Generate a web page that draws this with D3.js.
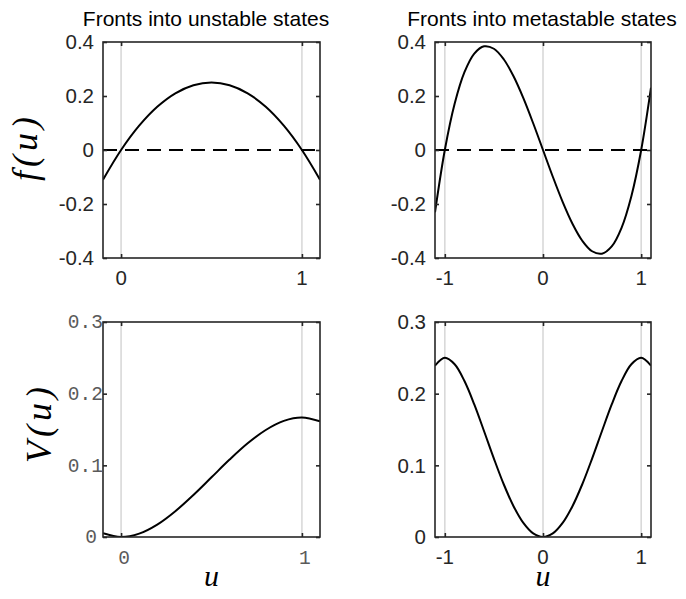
<!DOCTYPE html>
<html><head><meta charset="utf-8">
<script src="https://cdn.jsdelivr.net/npm/d3@7"></script>
<style>
html,body{margin:0;padding:0;background:#fff;}
svg{display:block;}
</style></head>
<body>
<svg id="chart" width="686" height="599"></svg>
<script>
// ---- data ----
const titles = ["Fronts into unstable states", "Fronts into metastable states"];
const uLeft = [-0.1, 0, 0.1, 0.2, 0.3, 0.4, 0.5, 0.6, 0.7, 0.8, 0.9, 1.0, 1.1];
const fLeft = [-0.11, 0, 0.09, 0.16, 0.21, 0.24, 0.25, 0.24, 0.21, 0.16, 0.09, 0, -0.11];
const VLeft = [0.0053, 0, 0.0047, 0.0173, 0.036, 0.0587, 0.0833, 0.108, 0.1307, 0.1493, 0.162, 0.1667, 0.1613];
const uRight = [-1.1, -1.0, -0.9, -0.8, -0.7, -0.6, -0.5, -0.4, -0.3, -0.2, -0.1, 0, 0.1, 0.2, 0.3, 0.4, 0.5, 0.6, 0.7, 0.8, 0.9, 1.0, 1.1];
const fRight = [-0.231, 0, 0.171, 0.288, 0.357, 0.384, 0.375, 0.336, 0.273, 0.192, 0.099, 0, -0.099, -0.192, -0.273, -0.336, -0.375, -0.384, -0.357, -0.288, -0.171, 0, 0.231];
const VRight = [0.239, 0.25, 0.241, 0.2176, 0.185, 0.1476, 0.1094, 0.0736, 0.043, 0.0196, 0.005, 0, 0.005, 0.0196, 0.043, 0.0736, 0.1094, 0.1476, 0.185, 0.2176, 0.241, 0.25, 0.239];
const xDomainLeft = [-0.1, 1.1];
const xDomainRight = [-1.1, 1.1];
const yDomainTop = [-0.4, 0.4];
const yDomainBottom = [0, 0.3];
const xTicksLeft = [0, 1];
const xTicksRight = [-1, 0, 1];
const yTicksTop = [-0.4, -0.2, 0, 0.2, 0.4];
const yTicksBottom = [0, 0.1, 0.2, 0.3];
const yTickLabelsTop = ["-0.4", "-0.2", "0", "0.2", "0.4"];
const yTickLabelsBottom = ["0", "0.1", "0.2", "0.3"];
const guideLeft = [0, 1];
const guideRight = [-1, 0, 1];

// ---- layout ----
const svg = d3.select("#chart");
const colX = [[103, 320], [435, 651]];
const rowY = [[42, 258], [322, 537]];
const TXT = "#262626";
const SANS = "'Liberation Sans', Arial, Helvetica, sans-serif";
const MONO = "'Liberation Mono', 'Courier New', monospace";
const SERIF = "'Liberation Serif', 'Times New Roman', serif";

function helvW(s, size) {
  let w = 0;
  for (const c of s) w += (c === "." ? 0.278 : c === "-" ? 0.333 : 0.556);
  return w * size;
}

function panel(opts) {
  const [x0, x1] = colX[opts.col];
  const [y0, y1] = rowY[opts.row];
  const x = d3.scaleLinear().domain(opts.xDomain).range([x0, x1]);
  const y = d3.scaleLinear().domain(opts.yDomain).range([y1, y0]);
  const g = svg.append("g");
  const clipId = "clip" + opts.row + opts.col;
  g.append("clipPath").attr("id", clipId).append("rect")
    .attr("x", x0).attr("y", y0).attr("width", x1 - x0).attr("height", y1 - y0);

  // light guide lines
  g.selectAll(".guide").data(opts.guides).join("line")
    .attr("x1", d => x(d)).attr("x2", d => x(d))
    .attr("y1", y0).attr("y2", y1)
    .attr("stroke", "#d9d9d9").attr("stroke-width", 1.6);

  // dashed zero line
  if (opts.zeroLine) {
    g.append("line")
      .attr("x1", x0).attr("x2", x1).attr("y1", y(0)).attr("y2", y(0))
      .attr("stroke", "#000").attr("stroke-width", 2)
      .attr("stroke-dasharray", "14,8");
  }

  // curve
  const pts = opts.u.map((u, i) => [u, opts.v[i]]);
  g.append("path").datum(pts)
    .attr("clip-path", `url(#${clipId})`)
    .attr("fill", "none").attr("stroke", "#000").attr("stroke-width", 2)
    .attr("d", d3.line().x(d => x(d[0])).y(d => y(d[1])).curve(d3.curveCatmullRom.alpha(0.5)));

  // axes (box with inward ticks on all sides)
  const tl = 4;
  const axB = d3.axisBottom(x).tickValues(opts.xTicks).tickSize(-tl).tickFormat("");
  const axT = d3.axisTop(x).tickValues(opts.xTicks).tickSize(-tl).tickFormat("");
  const axL = d3.axisLeft(y).tickValues(opts.yTicks).tickSize(-tl).tickFormat("");
  const axR = d3.axisRight(y).tickValues(opts.yTicks).tickSize(-tl).tickFormat("");
  const style = sel => {
    sel.selectAll("path").attr("stroke", TXT).attr("stroke-width", 1.6);
    sel.selectAll("line").attr("stroke", TXT).attr("stroke-width", 1.6);
  };
  g.append("g").attr("transform", `translate(0,${y1})`).call(axB).call(style);
  g.append("g").attr("transform", `translate(0,${y0})`).call(axT).call(style);
  g.append("g").attr("transform", `translate(${x0},0)`).call(axL).call(style);
  g.append("g").attr("transform", `translate(${x1},0)`).call(axR).call(style);
  g.selectAll(".domain").attr("d", null);
  g.append("rect").attr("x", x0).attr("y", y0).attr("width", x1 - x0).attr("height", y1 - y0)
    .attr("fill", "none").attr("stroke", TXT).attr("stroke-width", 1.6);

  // tick labels
  if (!opts.mono) {
    g.selectAll(".yl").data(opts.yTicks).join("text")
      .attr("x", x0 - 9).attr("y", d => y(d)).attr("dy", "0.36em")
      .attr("text-anchor", "end").attr("font-family", SANS).attr("font-size", 20.5)
      .attr("fill", TXT).text((d, i) => opts.yLabels[i]);
    g.selectAll(".xl").data(opts.xTicks).join("text")
      .attr("x", d => x(d)).attr("y", y1 + 27)
      .attr("text-anchor", "middle").attr("font-family", SANS).attr("font-size", 20.5)
      .attr("fill", TXT).text(d => String(d));
  } else {
    const mc = "#5a5a5a";
    g.selectAll(".yl").data(opts.yTicks).join("text")
      .attr("x", (d, i) => 97 - helvW(opts.yLabels[i], 21)).attr("y", d => y(d)).attr("dy", "0.32em")
      .attr("text-anchor", "start").attr("font-family", MONO).attr("font-size", 19.5)
      .attr("fill", mc).text((d, i) => opts.yLabels[i]);
    g.selectAll(".xl").data(opts.xTicks).join("text")
      .attr("x", d => x(d) - helvW(String(d), 21) / 2 + 3).attr("y", y1 + 27)
      .attr("text-anchor", "start").attr("font-family", MONO).attr("font-size", 19.5)
      .attr("fill", mc).text(d => String(d));
  }

  if (opts.title) {
    svg.append("text").attr("x", opts.titleX).attr("y", 26)
      .attr("text-anchor", "middle").attr("font-family", SANS).attr("font-size", 21)
      .attr("fill", "#000").text(opts.title);
  }
  if (opts.xlabel) {
    svg.append("text").attr("x", (x0 + x1) / 2).attr("y", 586)
      .attr("text-anchor", "middle").attr("font-family", SERIF).attr("font-style", "italic")
      .attr("font-size", 30).attr("fill", "#000").text(opts.xlabel);
  }
  if (opts.ylabel) {
    svg.append("text")
      .attr("transform", `translate(${opts.ylabelX},${opts.ylabelY}) rotate(-90)`)
      .attr("text-anchor", "middle").attr("font-family", SERIF).attr("font-style", "italic")
      .attr("font-size", 36).attr("fill", "#000")
      .attr("textLength", opts.ylabelLen).attr("lengthAdjust", "spacing")
      .text(opts.ylabel);
  }
}

panel({row: 0, col: 0, xDomain: xDomainLeft, yDomain: yDomainTop, u: uLeft, v: fLeft,
  xTicks: xTicksLeft, yTicks: yTicksTop, yLabels: yTickLabelsTop, guides: guideLeft,
  zeroLine: true, title: titles[0], titleX: 206, ylabel: "f(u)", ylabelX: 37, ylabelY: 149, ylabelLen: 64});
panel({row: 0, col: 1, xDomain: xDomainRight, yDomain: yDomainTop, u: uRight, v: fRight,
  xTicks: xTicksRight, yTicks: yTicksTop, yLabels: yTickLabelsTop, guides: guideRight,
  zeroLine: true, title: titles[1], titleX: 542});
panel({row: 1, col: 0, xDomain: xDomainLeft, yDomain: yDomainBottom, u: uLeft, v: VLeft,
  xTicks: xTicksLeft, yTicks: yTicksBottom, yLabels: yTickLabelsBottom, guides: guideLeft,
  mono: true, xlabel: "u", ylabel: "V(u)", ylabelX: 51, ylabelY: 425, ylabelLen: 76});
panel({row: 1, col: 1, xDomain: xDomainRight, yDomain: yDomainBottom, u: uRight, v: VRight,
  xTicks: xTicksRight, yTicks: yTicksBottom, yLabels: yTickLabelsBottom, guides: guideRight,
  xlabel: "u"});
</script>
</body></html>
